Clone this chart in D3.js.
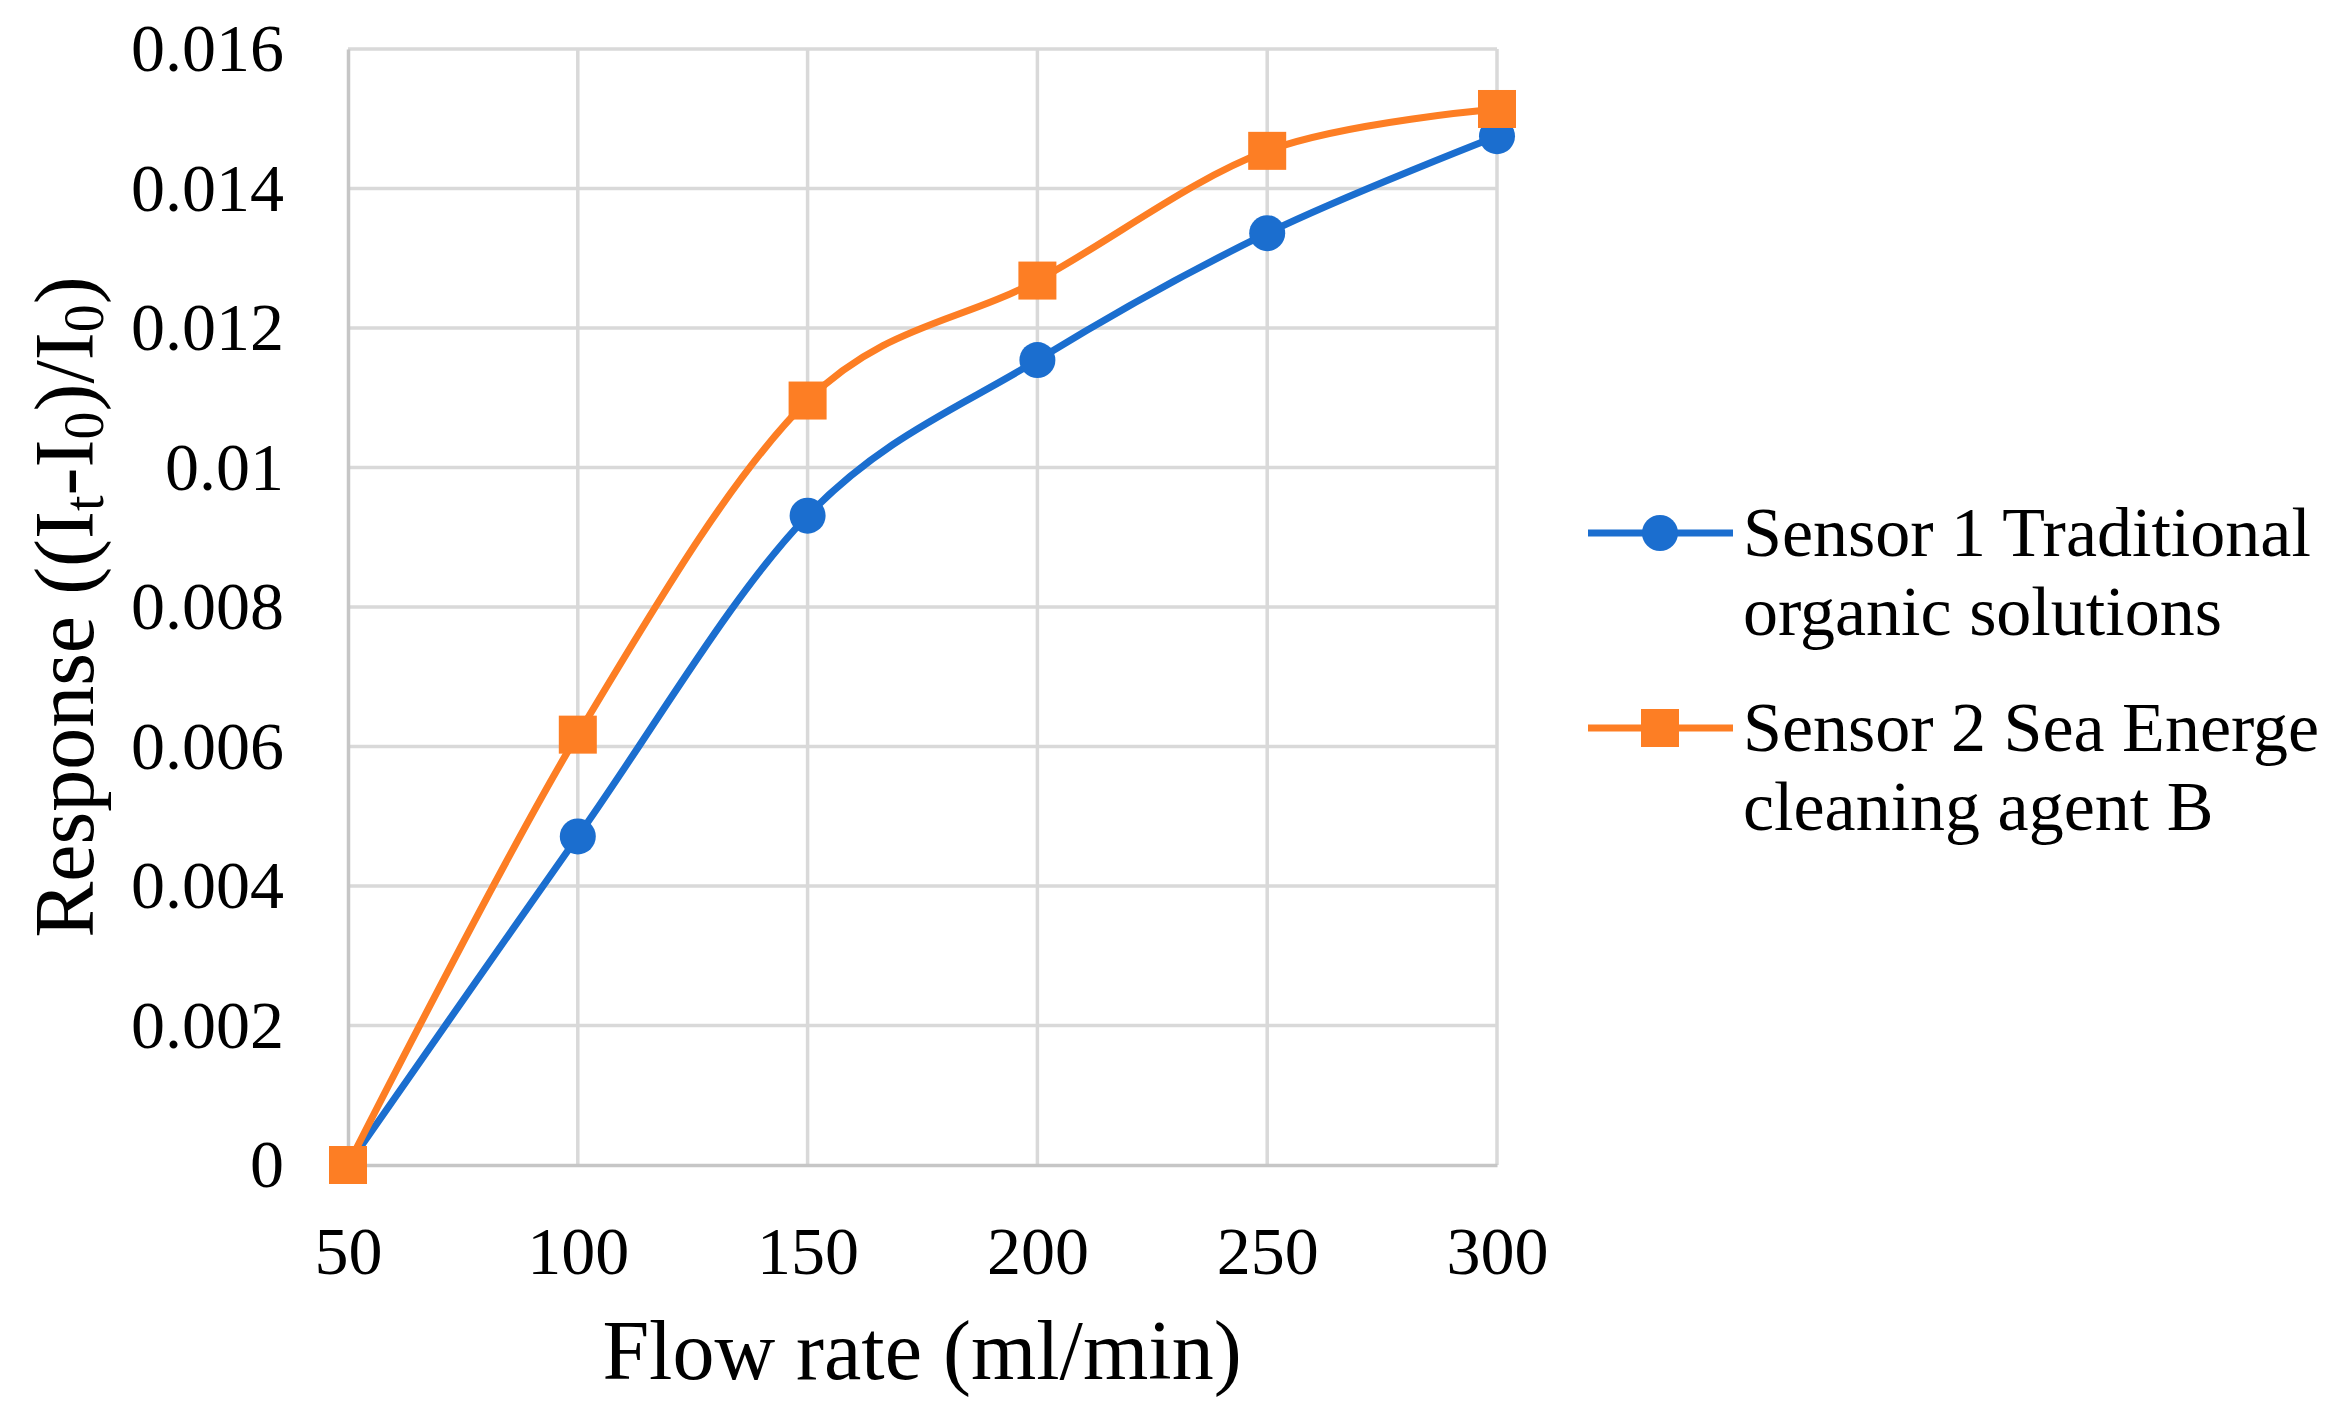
<!DOCTYPE html>
<html>
<head>
<meta charset="utf-8">
<script src="https://cdn.jsdelivr.net/npm/d3@7"></script>
<style>
  html, body { margin: 0; padding: 0; background: #fff; }
  svg { display: block; }
  text { font-family: "Liberation Serif", "Times New Roman", serif; fill: #000; }
</style>
</head>
<body>
<svg id="chart" width="2343" height="1421"></svg>
<script>
// ---- data ----
const flowRates = [50, 100, 150, 200, 250, 300];
const sensor1 = [0, 0.00471, 0.00931, 0.01154, 0.01336, 0.01475];
const sensor2 = [0, 0.00617, 0.01096, 0.01268, 0.01454, 0.01514];
const seriesNames = [
  ["Sensor 1 Traditional", "organic solutions"],
  ["Sensor 2 Sea Energe", "cleaning agent B"]
];
const xTicks = [50, 100, 150, 200, 250, 300];
const yTicks = [0, 0.002, 0.004, 0.006, 0.008, 0.01, 0.012, 0.014, 0.016];
const yTickLabels = ["0", "0.002", "0.004", "0.006", "0.008", "0.01", "0.012", "0.014", "0.016"];

// ---- layout ----
const W = 2343, H = 1421;
const plot = { left: 348, right: 1497, top: 49, bottom: 1165 };
const colors = ["#1b6ecf", "#fd7e24"];

const svg = d3.select("#chart");
svg.append("rect").attr("width", W).attr("height", H).attr("fill", "#fff");

const x = d3.scaleLinear().domain([50, 300]).range([plot.left, plot.right]);
const y = d3.scaleLinear().domain([0, 0.016]).range([plot.bottom, plot.top]);

// gridlines
const grid = svg.append("g");
grid.selectAll("line.h").data(yTicks.slice(1)).join("line")
  .attr("x1", plot.left).attr("x2", plot.right)
  .attr("y1", d => y(d)).attr("y2", d => y(d))
  .attr("stroke", "#d9d9d9").attr("stroke-width", 3.5);
grid.selectAll("line.v").data(xTicks.slice(1)).join("line")
  .attr("x1", d => x(d)).attr("x2", d => x(d))
  .attr("y1", plot.top).attr("y2", plot.bottom)
  .attr("stroke", "#d9d9d9").attr("stroke-width", 3.5);

// axes
const yAxis = svg.append("g")
  .attr("transform", `translate(${plot.left},0)`)
  .call(d3.axisLeft(y).tickValues(yTicks).tickSize(0).tickPadding(64)
    .tickFormat((d, i) => yTickLabels[i]));
yAxis.select(".domain").attr("stroke", "#c6c6c6").attr("stroke-width", 3.5);
yAxis.selectAll("text").attr("font-size", 68).attr("font-family", "Liberation Serif").attr("fill", "#000");

const xAxis = svg.append("g")
  .attr("transform", `translate(0,${plot.bottom})`)
  .call(d3.axisBottom(x).tickValues(xTicks).tickSize(0).tickPadding(61)
    .tickFormat(d3.format("d")));
xAxis.select(".domain").attr("stroke", "#c6c6c6").attr("stroke-width", 3.5);
xAxis.selectAll("text").attr("font-size", 68).attr("font-family", "Liberation Serif").attr("fill", "#000");

// lines
const line = d3.line()
  .x(d => x(d[0])).y(d => y(d[1]))
  .curve(d3.curveCatmullRom.alpha(0));

const allSeries = [sensor1, sensor2].map(vals => flowRates.map((f, i) => [f, vals[i]]));

allSeries.forEach((pts, si) => {
  svg.append("path")
    .datum(pts)
    .attr("d", line)
    .attr("fill", "none")
    .attr("stroke", colors[si])
    .attr("stroke-width", 7)
    .attr("stroke-linejoin", "round");
});

// markers
svg.append("g").selectAll("circle").data(allSeries[0]).join("circle")
  .attr("cx", d => x(d[0])).attr("cy", d => y(d[1]))
  .attr("r", 18).attr("fill", colors[0]);
const sq = 38;
svg.append("g").selectAll("rect").data(allSeries[1]).join("rect")
  .attr("x", d => x(d[0]) - sq / 2).attr("y", d => y(d[1]) - sq / 2)
  .attr("width", sq).attr("height", sq).attr("fill", colors[1]);

// axis titles
svg.append("text")
  .attr("x", 922).attr("y", 1379)
  .attr("text-anchor", "middle")
  .attr("font-size", 84)
  .text("Flow rate (ml/min)");

const yt = svg.append("text")
  .attr("transform", "translate(93,607) rotate(-90)")
  .attr("text-anchor", "middle")
  .attr("font-size", 84);
yt.append("tspan").text("Response ((I");
yt.append("tspan").attr("font-size", 56).attr("baseline-shift", "-18%").text("t");
yt.append("tspan").text("-I");
yt.append("tspan").attr("font-size", 56).attr("baseline-shift", "-18%").text("0");
yt.append("tspan").text(")/I");
yt.append("tspan").attr("font-size", 56).attr("baseline-shift", "-18%").text("0");
yt.append("tspan").text(")");

// legend
const legend = svg.append("g");
const legendY = [533, 728];
seriesNames.forEach((lines, si) => {
  const ly = legendY[si];
  legend.append("line")
    .attr("x1", 1588).attr("x2", 1733).attr("y1", ly).attr("y2", ly)
    .attr("stroke", colors[si]).attr("stroke-width", 7);
  if (si === 0) {
    legend.append("circle").attr("cx", 1660).attr("cy", ly).attr("r", 18).attr("fill", colors[si]);
  } else {
    legend.append("rect").attr("x", 1660 - sq / 2).attr("y", ly - sq / 2)
      .attr("width", sq).attr("height", sq).attr("fill", colors[si]);
  }
  lines.forEach((t, li) => {
    legend.append("text")
      .attr("x", 1743).attr("y", ly + 23 + li * 79)
      .attr("font-size", 70)
      .text(t);
  });
});
</script>
</body>
</html>
